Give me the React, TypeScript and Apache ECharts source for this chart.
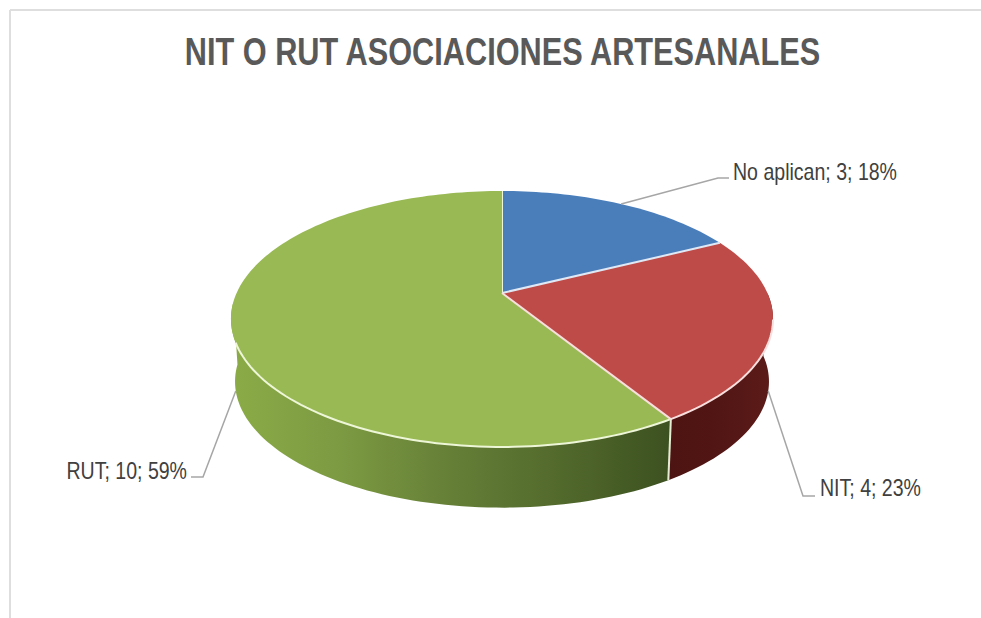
import React, { useEffect, useRef } from "react";
import * as echarts from "echarts";

const titleText = "NIT O RUT ASOCIACIONES ARTESANALES";
const categories = ["No aplican", "NIT", "RUT"];
const values = [3, 4, 10];
const percentLabels = ["18%", "23%", "59%"];

const topColors = ["#4a7ebb", "#be4b48", "#98b954"];
const rimColors = ["#dfe8f5", "#f8dedd", "#eef6d8"];
const wallGradients = [
  ["#2f5380", "#2f5380"],
  ["#4c1412", "#521614", "#5c1b19"],
  ["#8bab47", "#7c9a42", "#657f37", "#52692c", "#3c5120"],
];

const W = 981;
const H = 618;
const CX = 502;
const CY = 293;
const RX = 265.4;
const RY = 122.7;
const PERSP = 0.203;
const DEPTH = 63;
const BOTTOM_SCALE = 0.985;

const FONT = "'Liberation Sans', Arial, sans-serif";
const LABEL_SIZE = 23;
const LABEL_SQUEEZE = 0.85;
const TITLE_SIZE = 38;
const TITLE_SQUEEZE = 0.808;

// Elbow and end of each leader line, and where its text sits
const leaderLayout = [
  { elbow: [718, 178], end: [729, 178], text: [733, 172], align: "left", onBottom: false },
  { elbow: [803, 496], end: [815, 496], text: [820, 488], align: "left", onBottom: true },
  { elbow: [203, 477], end: [191, 477], text: [187, 471], align: "right", onBottom: true },
];

const total = values.reduce((a, b) => a + b, 0);

function sliceAngles(i: number): [number, number] {
  let before = 0;
  for (let k = 0; k < i; k++) before += values[k];
  return [(before / total) * 360, ((before + values[i]) / total) * 360];
}

// Perspective projection of a point on the unit disc (angle clockwise from the top)
function project(deg: number, radius = 1, bottom = false): [number, number] {
  const a = (deg * Math.PI) / 180;
  const u = Math.sin(a) * radius;
  const v = -Math.cos(a) * radius;
  const w = 1 - PERSP * v;
  const s = bottom ? BOTTOM_SCALE : 1;
  return [CX + (RX * s * u) / w, CY + (bottom ? DEPTH : 0) + (RY * s * v) / w];
}

function arc(from: number, to: number, bottom = false): [number, number][] {
  const n = Math.max(2, Math.ceil(Math.abs(to - from) / 1.5));
  const pts: [number, number][] = [];
  for (let i = 0; i <= n; i++) pts.push(project(from + ((to - from) * i) / n, 1, bottom));
  return pts;
}

const WALL_FROM = 90;
const WALL_TO = 266;
const RIM_FROM = 102;
const RIM_TO = 248;

function renderWall(params: any) {
  const i = params.dataIndex;
  const [a0, a1] = sliceAngles(i);
  const from = Math.max(a0, WALL_FROM);
  const to = Math.min(a1, WALL_TO);
  if (to <= from) return { type: "group", children: [] };
  const points = [...arc(from, to), ...arc(to, from, true)];
  const stops = wallGradients[i];
  return {
    type: "group",
    children: [
      {
        type: "polygon",
        shape: { points },
        style: {
          fill: new echarts.graphic.LinearGradient(
            0,
            0,
            1,
            0,
            stops.map((color, k) => ({ offset: k / (stops.length - 1), color }))
          ),
        },
      },
    ],
  };
}

function renderTop(params: any) {
  const i = params.dataIndex;
  const [a0, a1] = sliceAngles(i);
  const center = project(0, 0);
  const children: any[] = [
    {
      type: "polygon",
      shape: { points: [center, ...arc(a0, a1)] },
      style: { fill: topColors[i] },
    },
  ];
  // Light rim along the front of the disc
  const from = Math.max(a0, RIM_FROM);
  const to = Math.min(a1, RIM_TO);
  if (to > from) {
    children.push({
      type: "polyline",
      shape: { points: arc(from, to) },
      style: { stroke: rimColors[i], lineWidth: 2, fill: "none" },
    });
  }
  // Separator at the start of the slice
  children.push({
    type: "line",
    shape: { x1: center[0], y1: center[1], x2: project(a0)[0], y2: project(a0)[1] },
    style: { stroke: rimColors[(i + 2) % 3], lineWidth: 2 },
  });
  // Wall seam
  if (a0 > WALL_FROM && a0 < WALL_TO) {
    const t = project(a0);
    const b = project(a0, 1, true);
    children.push({
      type: "line",
      shape: { x1: t[0], y1: t[1], x2: b[0], y2: b[1] },
      style: { stroke: "#e6ecd4", lineWidth: 2 },
    });
  }
  // Leader and label
  const lay = leaderLayout[i];
  const start = project((a0 + a1) / 2, 1, lay.onBottom);
  children.push({
    type: "polyline",
    shape: { points: [start, lay.elbow, lay.end] },
    style: { stroke: "#a6a6a6", lineWidth: 1.5, fill: "none" },
  });
  children.push({
    type: "text",
    x: lay.text[0],
    y: lay.text[1],
    scaleX: LABEL_SQUEEZE,
    style: {
      text: `${categories[i]}; ${values[i]}; ${percentLabels[i]}`,
      fill: "#404040",
      font: `${LABEL_SIZE}px ${FONT}`,
      align: lay.align,
      verticalAlign: "middle",
    },
  });
  return { type: "group", children };
}

export default function App() {
  const ref = useRef<HTMLDivElement>(null);
  useEffect(() => {
    document.body.style.margin = "0";
    const chart = echarts.init(ref.current!, undefined, { renderer: "svg", width: W, height: H });
    chart.setOption({
      animation: false,
      backgroundColor: "#ffffff",
      graphic: [
        { type: "line", shape: { x1: 10, y1: 10, x2: W, y2: 10 }, style: { stroke: "#dedede", lineWidth: 2 } },
        { type: "line", shape: { x1: 10, y1: 10, x2: 10, y2: H }, style: { stroke: "#dedede", lineWidth: 2 } },
        {
          type: "text",
          x: 502.5,
          y: 52,
          scaleX: TITLE_SQUEEZE,
          style: {
            text: titleText,
            fill: "#595959",
            font: `bold ${TITLE_SIZE}px ${FONT}`,
            align: "center",
            verticalAlign: "middle",
          },
        },
      ],
      series: [
        { type: "custom", name: "walls", coordinateSystem: "none", silent: true, z: 1, data: values.map((v) => [v]), renderItem: renderWall },
        { type: "custom", name: "tops", coordinateSystem: "none", silent: true, z: 2, data: values.map((v) => [v]), renderItem: renderTop },
      ],
    });
    return () => chart.dispose();
  }, []);
  return <div ref={ref} style={{ position: "absolute", left: 0, top: 0, width: W, height: H }} />;
}
